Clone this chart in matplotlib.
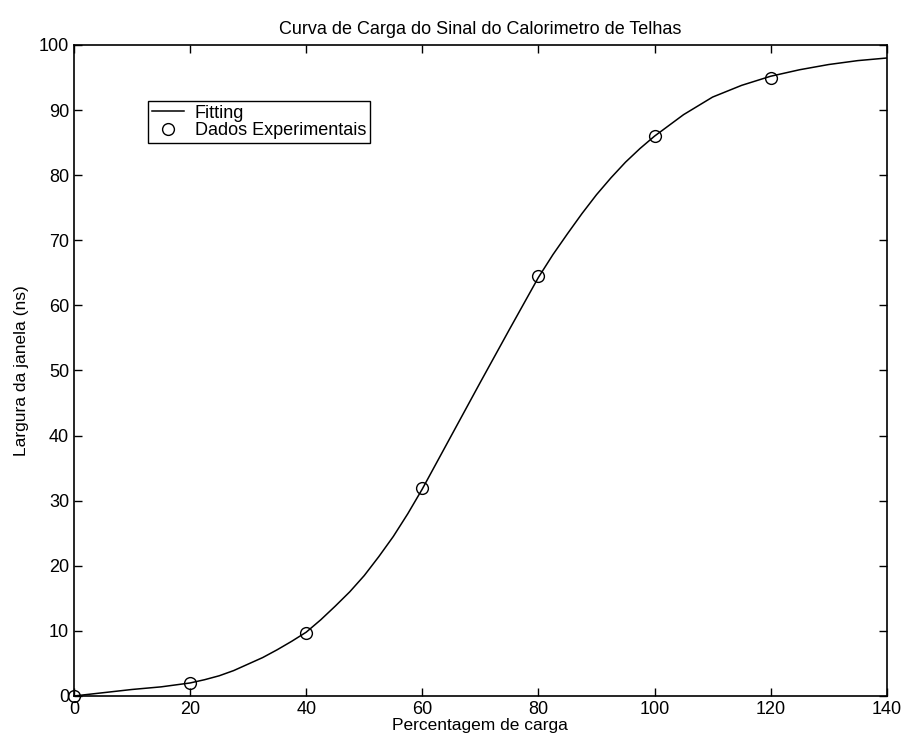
import numpy as np
import matplotlib
matplotlib.use("Agg")
import matplotlib.pyplot as plt

plt.rcParams['font.family'] = ['Liberation Sans', 'DejaVu Sans']

# dados experimentais
carga = [0, 20, 40, 60, 80, 100, 120]
largura = [0, 2.0, 9.6, 32, 64.5, 86, 95]

# curva de fitting
fit_x = [0, 5, 10, 15, 20, 22.5, 25, 27.5, 30, 32.5, 35, 37.5, 40, 42.5, 45, 47.5,
         50, 52.5, 55, 57.5, 60, 65, 70, 75, 80, 82.5, 85, 87.5, 90, 92.5, 95,
         97.5, 100, 105, 110, 115, 120, 125, 130, 135, 140]
fit_y = [0, 0.5, 1.0, 1.4, 2.0, 2.5, 3.1, 3.9, 4.9, 5.9, 7.1, 8.4, 9.8, 11.7, 13.8, 16.0,
         18.5, 21.4, 24.5, 28.0, 31.8, 40.0, 48.2, 56.3, 64.3, 67.8, 71.0, 74.1, 77.0, 79.6, 82.0,
         84.1, 86.0, 89.3, 92.0, 93.8, 95.2, 96.2, 97.0, 97.6, 98.0]

fig = plt.figure(figsize=(9.17, 7.45), dpi=100)
ax = fig.add_axes([0.0807, 0.0658, 0.8863, 0.8738])

ax.plot(fit_x, fit_y, color='black', lw=1.1, label='Fitting')
ax.plot(carga, largura, 'o', mfc='none', mec='black', ms=8.5, mew=1.0,
        label='Dados Experimentais', clip_on=False)

ax.set_xlim(0, 140)
ax.set_ylim(0, 100)
ax.set_xticks(np.arange(0, 141, 20))
ax.set_yticks(np.arange(0, 101, 10))
ax.tick_params(direction='in', length=6, width=1, top=True, right=True, labelsize=13)
for s in ax.spines.values():
    s.set_linewidth(1.2)

ax.set_xlabel('Percentagem de carga', fontsize=12.5, labelpad=0)
ax.set_ylabel('Largura da janela (ns)', fontsize=12.5, labelpad=7)
ax.set_title('Curva de Carga do Sinal do Calorimetro de Telhas', fontsize=13, pad=8)

leg = ax.legend(loc='upper left', bbox_to_anchor=(0.091, 0.914), borderaxespad=0,
                fancybox=False, edgecolor='black', fontsize=13, handlelength=1.8,
                handletextpad=0.6, borderpad=0.2, labelspacing=0.05, framealpha=1)
leg.get_frame().set_linewidth(1.0)

plt.savefig('out.png', dpi=100)
plt.close()
